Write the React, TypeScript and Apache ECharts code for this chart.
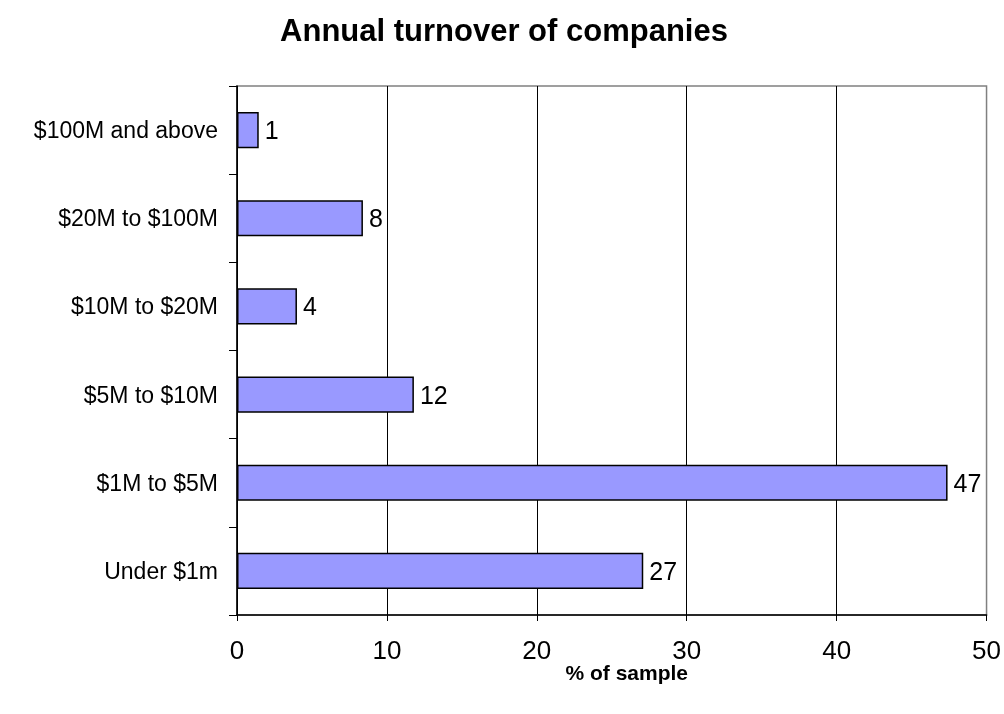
import React, { useEffect, useRef } from "react";
import * as echarts from "echarts";

const categories = ["Under $1m", "$1M to $5M", "$5M to $10M", "$10M to $20M", "$20M to $100M", "$100M and above"];
const values = [27.1, 47.4, 11.8, 4.0, 8.4, 1.45];
const xTicks = [0, 10, 20, 30, 40, 50];

export default function App() {
  const ref = useRef<HTMLDivElement>(null);
  useEffect(() => {
    const chart = echarts.init(ref.current!, null, { renderer: "svg" });
    const font = "Liberation Sans, Arial, sans-serif";
    chart.setOption({
      animation: false,
      title: {
        text: "Annual turnover of companies",
        left: 499,
        top: 10,
        textAlign: "center",
        textStyle: { fontFamily: font, fontSize: 31, fontWeight: "bold", color: "#000" },
      },
      grid: {
        left: 237,
        right: 16,
        top: 86,
        bottom: 99,
        show: true,
        borderColor: "#808080",
        borderWidth: 1.5,
      },
      xAxis: {
        type: "value",
        min: xTicks[0],
        max: xTicks[xTicks.length - 1],
        interval: 10,
        name: "% of sample",
        nameLocation: "middle",
        nameGap: 47,
        nameMoveOverlap: false,
        nameTextStyle: { fontFamily: font, fontSize: 21, fontWeight: "bold", color: "#000", padding: [0, 0, 0, 30] },
        axisLine: { show: true, lineStyle: { color: "#000", width: 1.5 } },
        axisTick: { show: true, length: 6, lineStyle: { color: "#000" } },
        axisLabel: { fontFamily: font, fontSize: 26, color: "#000", margin: 22 },
        splitLine: { show: true, showMaxLine: false, lineStyle: { color: "#000", width: 1 } },
      },
      yAxis: {
        type: "category",
        data: categories,
        axisLine: { show: true, lineStyle: { color: "#000", width: 1.5 } },
        axisTick: { show: true, length: 8, inside: false, lineStyle: { color: "#000" } },
        axisLabel: { fontFamily: font, fontSize: 23, color: "#000", margin: 19 },
      },
      series: [
        {
          type: "bar",
          data: values,
          barWidth: "41%",
          itemStyle: { color: "#9999FF", borderColor: "#000", borderWidth: 1.5 },
          label: {
            show: true,
            position: "right",
            distance: 6,
            fontFamily: font,
            fontSize: 25,
            color: "#000",
            formatter: (p: any) => String(Math.round(p.value)),
          },
        },
      ],
    });
    return () => chart.dispose();
  }, []);
  return <div ref={ref} style={{ position: "fixed", left: 0, top: 0, width: 1004, height: 714 }} />;
}
